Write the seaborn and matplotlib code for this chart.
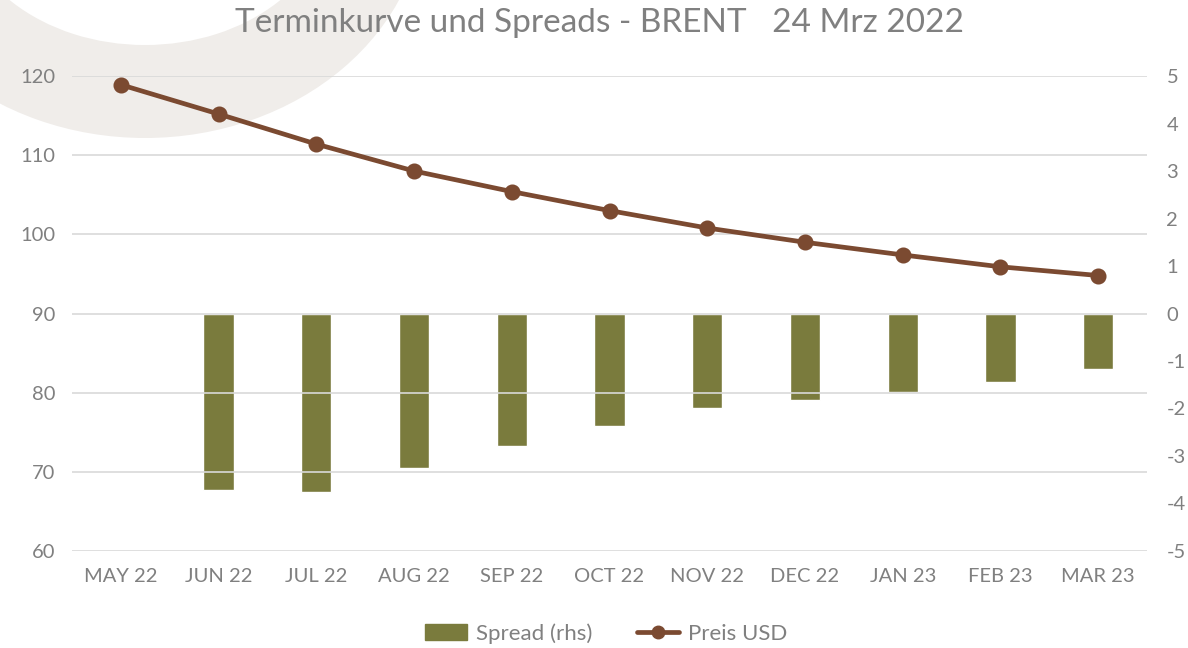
import matplotlib
matplotlib.use("Agg")
import matplotlib.pyplot as plt
import matplotlib.patches as mpatches
from matplotlib.lines import Line2D
import seaborn as sns

months = ["MAY 22", "JUN 22", "JUL 22", "AUG 22", "SEP 22", "OCT 22",
          "NOV 22", "DEC 22", "JAN 23", "FEB 23", "MAR 23"]
price = [118.9, 115.2, 111.4, 108.0, 105.4, 103.0, 100.8, 99.0, 97.4, 95.9, 94.8]
spread_months = months[1:]
spread = [-3.71, -3.75, -3.26, -2.78, -2.36, -2.0, -1.83, -1.66, -1.45, -1.16]

left_ticks = [60, 70, 80, 90, 100, 110, 120]
right_ticks = [-5, -4, -3, -2, -1, 0, 1, 2, 3, 4, 5]

LINE_C = "#7b4a31"
BAR_C = "#7a7b3d"
TXT_C = "#808080"
GRID_C = "#d9d9d9"

sns.set_style("white")
plt.rcParams["font.family"] = ["Lato", "DejaVu Sans"]
plt.rcParams["axes.unicode_minus"] = False

fig = plt.figure(figsize=(11.88, 6.48), dpi=100)

# faint decorative ring behind everything (top left corner)
ring = mpatches.Annulus((1.45, 7.48), (2.80, 2.38), 0.93,
                        facecolor="#f0edea", edgecolor="none",
                        transform=fig.dpi_scale_trans, zorder=0)
fig.patches.append(ring)

ax = fig.add_axes([0.0606, 0.1497, 0.9049, 0.7330])
ax2 = ax.twinx()
ax.set_zorder(ax2.get_zorder() + 1)
ax.patch.set_visible(False)
ax2.patch.set_visible(False)

sns.barplot(x=spread_months, y=spread, order=months, ax=ax2, color=BAR_C,
            saturation=1, width=0.31)
sns.pointplot(x=months, y=price, order=months, ax=ax, color=LINE_C,
              markers="o", markersize=9, linewidth=3.4)

ax.set_ylim(60, 120)
ax.set_yticks(left_ticks)
ax2.set_ylim(-5, 5)
ax2.set_yticks(right_ticks)
ax.set_xlim(-0.5, len(months) - 0.5)
ax.set_xlabel("")
ax.set_ylabel("")
ax2.set_ylabel("")

ax.grid(axis="y", color=GRID_C, linewidth=1.2)
ax.set_axisbelow(True)
for a in (ax, ax2):
    for s in a.spines.values():
        s.set_visible(False)
    a.tick_params(length=0, colors=TXT_C, labelsize=14.5)
ax.tick_params(axis="y", pad=12)
ax.tick_params(axis="x", pad=12)
ax2.tick_params(axis="y", pad=14)
for lbl in ax2.get_yticklabels():
    lbl.set_horizontalalignment("left")

fig.text(0.505, 0.964, "Terminkurve und Spreads - BRENT   24 Mrz 2022",
         ha="center", va="center", fontsize=24, color=TXT_C)

handles = [mpatches.Patch(color=BAR_C, label="Spread (rhs)"),
           Line2D([], [], color=LINE_C, linewidth=3.4, marker="o",
                  markersize=9, label="Preis USD")]
fig.legend(handles=handles, loc="center", bbox_to_anchor=(0.510, 0.022),
           ncol=2, frameon=False, fontsize=16, labelcolor=TXT_C,
           handlelength=1.9, handletextpad=0.4, columnspacing=2.0)

fig.savefig("out.png", dpi=100)
